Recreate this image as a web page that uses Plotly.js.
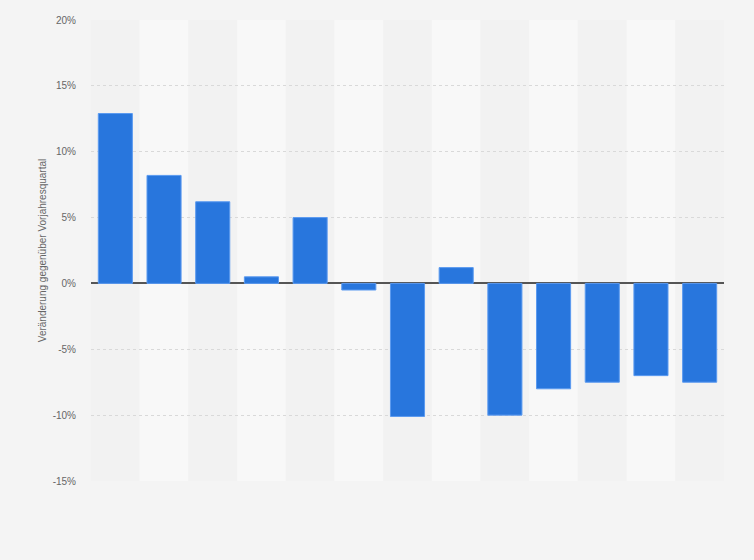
<!DOCTYPE html>
<html>
<head>
<meta charset="utf-8">
<script src="https://cdn.plot.ly/plotly-3.0.1.min.js"></script>
<style>html,body{margin:0;padding:0;background:#f4f4f4;}</style>
</head>
<body>
<div id="chart" style="width:754px;height:560px;"></div>
<script>
var categories = ["Q1 2019","Q2 2019","Q3 2019","Q4 2019","Q1 2020","Q2 2020","Q3 2020","Q4 2020","Q1 2021","Q2 2021","Q3 2021","Q4 2021","Q1 2022"];
var values = [12.9, 8.2, 6.2, 0.5, 5.0, -0.5, -10.1, 1.2, -10.0, -8.0, -7.5, -7.0, -7.5];
var tickValues = [-15, -10, -5, 0, 5, 10, 15, 20];
var tickLabels = ["-15%", "-10%", "-5%", "0%", "5%", "10%", "15%", "20%"];
var yTitle = "Veränderung gegenüber Vorjahresquartal";

var shapes = [];
categories.forEach(function(c, i){
  shapes.push({
    type: "rect", xref: "x", yref: "paper", layer: "below",
    x0: i - 0.5, x1: i + 0.5, y0: 0, y1: 1,
    fillcolor: (i % 2 === 1) ? "#f8f8f8" : "#f2f2f2",
    line: {width: 0}
  });
});

var trace = {
  type: "bar",
  x: categories,
  y: values,
  width: 0.7,
  marker: {color: "#2876dd", line: {color: "#5b9af0", width: 1}},
  hoverinfo: "y"
};

var layout = {
  width: 754, height: 560,
  paper_bgcolor: "#f4f4f4",
  plot_bgcolor: "rgba(0,0,0,0)",
  margin: {l: 91, r: 30, t: 20, b: 79},
  showlegend: false,
  bargap: 0.3,
  font: {family: "Liberation Sans, Arial, sans-serif", color: "#666", size: 10},
  shapes: shapes,
  xaxis: {
    type: "category",
    showticklabels: false,
    showgrid: false,
    zeroline: false,
    ticks: "",
    range: [-0.5, categories.length - 0.5]
  },
  yaxis: {
    range: [-15, 20],
    tickmode: "array",
    tickvals: tickValues,
    ticktext: tickLabels,
    showgrid: true,
    gridcolor: "#d9d9d9",
    griddash: "dot",
    gridwidth: 1,
    zeroline: true,
    zerolinecolor: "#555",
    zerolinewidth: 2,
    ticks: "",
    ticklabelstandoff: 14,
    tickfont: {size: 10, color: "#666"},
    title: {text: yTitle, font: {size: 10, color: "#666"}, standoff: 4}
  }
};

Plotly.newPlot("chart", [trace], layout, {displayModeBar: false, staticPlot: true});
</script>
</body>
</html>
